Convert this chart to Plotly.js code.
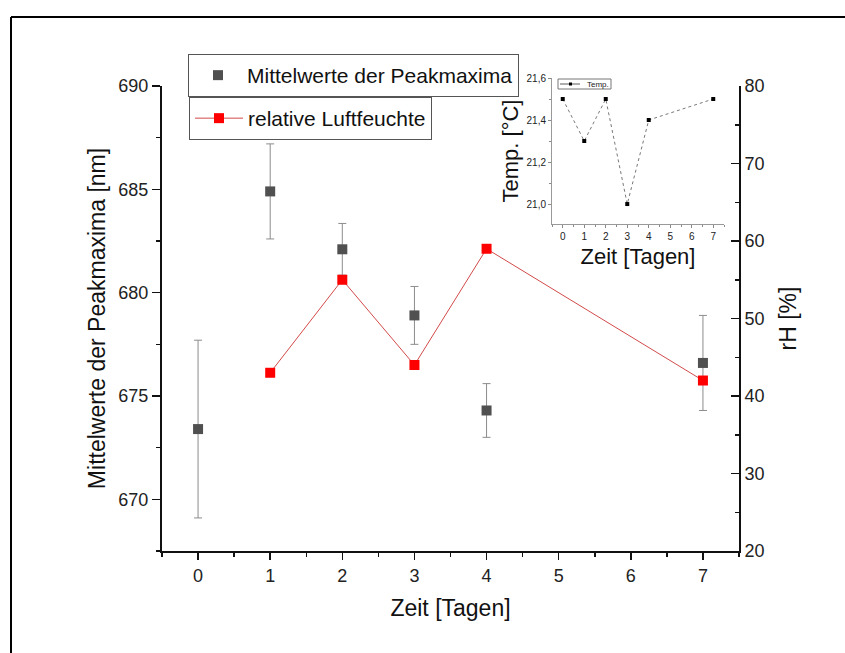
<!DOCTYPE html>
<html>
<head>
<meta charset="utf-8">
<script src="https://cdn.plot.ly/plotly-3.0.1.min.js"></script>
<style>
html,body{margin:0;padding:0;background:#fff;}
#chart{width:845px;height:653px;}
</style>
</head>
<body>
<div id="chart"></div>
<script>
// ---- data ----
const days = [0, 1, 2, 3, 4, 7];
const peakMean = [673.4, 684.9, 682.1, 678.9, 674.3, 676.6];
const peakErr = [4.3, 2.3, 1.25, 1.4, 1.3, 2.3];
const rhDays = [1, 2, 3, 4, 7];
const rhValues = [43, 55, 44, 59, 42];
const tempDays = [0, 1, 2, 3, 4, 7];
const tempValues = [21.5, 21.3, 21.5, 21.0, 21.4, 21.5];
const xTickVals = [0, 1, 2, 3, 4, 5, 6, 7];
const xTickText = ['0', '1', '2', '3', '4', '5', '6', '7'];
const tempLegendLabel = 'Temp.';

const FONT = 'Liberation Sans, Arial, sans-serif';

// pixel -> paper helpers for the decorative frame and inset legend box
const PL = 162, PW = 577, PT = 60, PH = 491;
const px = v => (v - PL) / PW;
const py = v => (PT + PH - v) / PH;

const traces = [
  {
    x: days, y: peakMean, type: 'scatter', mode: 'markers',
    name: 'Mittelwerte der Peakmaxima',
    marker: {symbol: 'square', size: 10, color: '#505050'},
    error_y: {type: 'data', array: peakErr, visible: true, color: '#8c8c8c', thickness: 1, width: 4},
    xaxis: 'x', yaxis: 'y', legend: 'legend'
  },
  {
    x: rhDays, y: rhValues, type: 'scatter', mode: 'lines+markers',
    name: 'relative Luftfeuchte',
    line: {color: '#d24a4a', width: 1},
    marker: {symbol: 'square', size: 10, color: '#ff0000'},
    xaxis: 'x', yaxis: 'y2', legend: 'legend2'
  },
  {
    x: tempDays, y: tempValues, type: 'scatter', mode: 'lines+markers',
    name: tempLegendLabel, showlegend: false,
    line: {color: '#555555', width: 0.8, dash: 'dot'},
    marker: {symbol: 'square', size: 4, color: '#000000'},
    xaxis: 'x2', yaxis: 'y3'
  }
];

const layout = {
  width: 845, height: 653,
  margin: {l: PL, r: 845 - PL - PW, t: PT, b: 653 - PT - PH},
  paper_bgcolor: '#ffffff', plot_bgcolor: 'rgba(0,0,0,0)',
  separators: ',.',
  font: {family: FONT, color: '#222222'},
  showlegend: true,
  xaxis: {
    domain: [0, 1], range: [-0.5, 7.5],
    tickvals: xTickVals, ticktext: xTickText,
    ticks: 'outside', ticklen: 7, tickwidth: 1.5, tickcolor: '#111',
    minor: {dtick: 0.5, tick0: 0.5, ticks: 'outside', ticklen: 4, tickwidth: 1.5, tickcolor: '#111'},
    showline: true, linecolor: '#111', linewidth: 2,
    showgrid: false, zeroline: false,
    tickfont: {size: 18, color: '#222'},
    title: {text: 'Zeit [Tagen]', font: {size: 23, color: '#111'}, standoff: 15},
    anchor: 'y'
  },
  yaxis: {
    domain: [0, 0.947], range: [667.5, 690],
    tickvals: [670, 675, 680, 685, 690],
    ticks: 'outside', ticklen: 8, tickwidth: 1.5, tickcolor: '#111',
    minor: {dtick: 2.5, tick0: 0, ticks: 'outside', ticklen: 4, tickwidth: 1.5, tickcolor: '#111'},
    showline: true, linecolor: '#111', linewidth: 2,
    showgrid: false, zeroline: false,
    tickfont: {size: 18, color: '#222'},
    title: {text: 'Mittelwerte der Peakmaxima [nm]', font: {size: 23, color: '#111'}, standoff: 6},
    anchor: 'x'
  },
  yaxis2: {
    domain: [0, 0.947], range: [20, 80], overlaying: 'y', side: 'right', anchor: 'x',
    tickvals: [20, 30, 40, 50, 60, 70, 80],
    ticks: 'inside', ticklen: 8, tickwidth: 1.5, tickcolor: '#111',
    minor: {dtick: 5, tick0: 0, ticks: 'inside', ticklen: 4, tickwidth: 1.5, tickcolor: '#111'},
    showline: true, linecolor: '#111', linewidth: 2,
    showgrid: false, zeroline: false,
    tickfont: {size: 18, color: '#222'},
    title: {text: 'rH [%]', font: {size: 23, color: '#111'}, standoff: 16}
  },
  xaxis2: {
    domain: [px(552), px(724)], range: [-0.5, 7.5], anchor: 'y3',
    tickvals: xTickVals, ticktext: xTickText,
    ticks: 'outside', ticklen: 3, tickwidth: 1, tickcolor: '#888',
    minor: {dtick: 0.5, tick0: 0.5, ticks: 'outside', ticklen: 2, tickwidth: 1, tickcolor: '#888'},
    showline: true, linecolor: '#999', linewidth: 1,
    showgrid: false, zeroline: false,
    tickfont: {size: 10, color: '#222'},
    title: {text: 'Zeit [Tagen]', font: {size: 22, color: '#111'}, standoff: 7}
  },
  yaxis3: {
    domain: [py(224), py(78)], range: [20.905, 21.6], anchor: 'x2',
    tickvals: [21.0, 21.2, 21.4, 21.6], tickformat: '.1f',
    ticks: 'outside', ticklen: 3, tickwidth: 1, tickcolor: '#888',
    minor: {dtick: 0.1, tick0: 21.1, ticks: 'outside', ticklen: 2, tickwidth: 1, tickcolor: '#888'},
    showline: true, linecolor: '#999', linewidth: 1,
    showgrid: false, zeroline: false,
    tickfont: {size: 10, color: '#222'},
    title: {text: 'Temp. [°C]', font: {size: 22, color: '#111'}, standoff: 1}
  },
  legend: {
    x: px(188), y: py(54), xanchor: 'left', yanchor: 'top',
    bgcolor: 'rgba(255,255,255,0)', bordercolor: '#555', borderwidth: 1,
    font: {size: 21, color: '#111'}, itemwidth: 48, tracegroupgap: 0
  },
  legend2: {
    x: px(189), y: py(97), xanchor: 'left', yanchor: 'top',
    bgcolor: 'rgba(255,255,255,0)', bordercolor: '#555', borderwidth: 1,
    font: {size: 21, color: '#111'}, itemwidth: 48, tracegroupgap: 0
  },
  annotations: [
    {xref: 'paper', yref: 'paper', x: px(585), y: py(84), xanchor: 'left', yanchor: 'middle',
     text: tempLegendLabel, showarrow: false, font: {size: 8, color: '#222'}}
  ],
  shapes: [
    // outer frame (left and top edges visible)
    {type: 'line', xref: 'paper', yref: 'paper', x0: px(11), x1: px(11), y0: py(700), y1: py(17),
     line: {color: '#000', width: 2}},
    {type: 'line', xref: 'paper', yref: 'paper', x0: px(11), x1: px(900), y0: py(17), y1: py(17),
     line: {color: '#000', width: 2}},
    // inset legend box and key
    {type: 'rect', xref: 'paper', yref: 'paper', x0: px(558), x1: px(611), y0: py(89), y1: py(79),
     line: {color: '#777', width: 1}},
    {type: 'line', xref: 'paper', yref: 'paper', x0: px(560), x1: px(580), y0: py(84), y1: py(84),
     line: {color: '#333', width: 0.8}},
    {type: 'rect', xref: 'paper', yref: 'paper', x0: px(569), x1: px(572), y0: py(85.5), y1: py(82.5),
     line: {width: 0}, fillcolor: '#000'}
  ]
};

Plotly.newPlot('chart', traces, layout, {displayModeBar: false, staticPlot: true});
</script>
</body>
</html>
